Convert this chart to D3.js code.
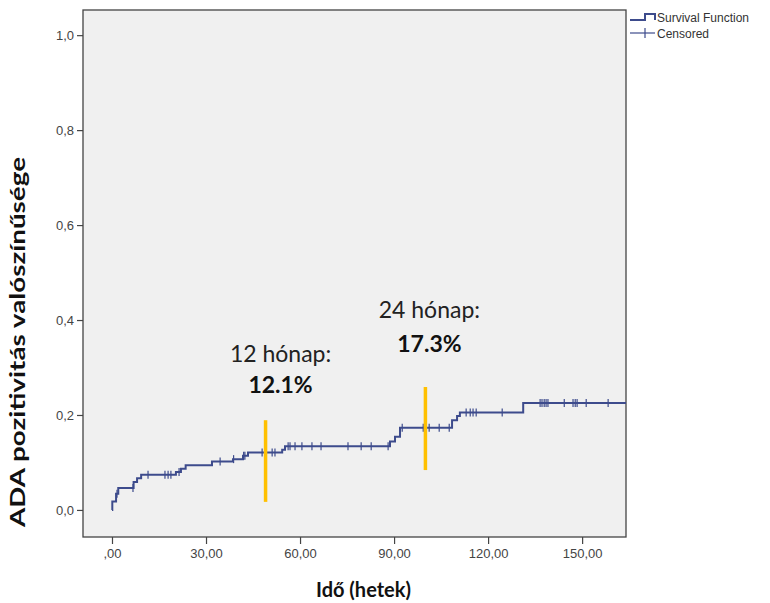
<!DOCTYPE html>
<html>
<head>
<meta charset="utf-8">
<script src="https://cdn.jsdelivr.net/npm/d3@7"></script>
<style>
  body { margin: 0; background: #fff; }
  svg { display: block; }
</style>
</head>
<body>
<script>
// Lépések (idő hetekben, kumulatív valószínűség)
const stepTimes  = [0, 0.1, 1.3, 2.0, 6.9, 8.0, 9.3, 20.4, 22.0, 23.5, 31.9, 38.6, 41.8, 43.4, 54.3, 55.2, 88.7, 90.3, 91.9, 108.5, 110.1, 111.0, 131.2];
const stepValues = [0, 0.018, 0.034, 0.046, 0.059, 0.067, 0.074, 0.080, 0.087, 0.094, 0.102, 0.107, 0.114, 0.121, 0.127, 0.134, 0.144, 0.154, 0.173, 0.189, 0.198, 0.205, 0.225];
const lastTime = 164;

// Cenzorált időpontok
const censorTimes = [1.6, 6.7, 11.5, 16.9, 17.9, 18.8, 21.4, 34.5, 38.8, 42.0, 42.4, 47.9, 51.1, 52.0,
  56.2, 56.8, 58.4, 60.6, 63.8, 66.7, 75.3, 79.5, 82.7, 88.1, 92.6, 99.3, 101.2, 104.4, 107.6,
  113.0, 114.3, 115.2, 116.2, 124.5, 136.6, 137.2, 137.9, 138.5, 139.1, 144.3, 147.1, 147.8, 148.4, 151.3, 158.3];

const xTicks = [0, 30, 60, 90, 120, 150];
const yTicks = [0, 0.2, 0.4, 0.6, 0.8, 1.0];

// Kiemelések
const markTimes = [49, 100];
const markLow   = [0.017, 0.084];
const markHigh  = [0.189, 0.259];
const markTitles = ["12 hónap:", "24 hónap:"];
const markPcts   = ["12.1%", "17.3%"];

const legendLabels = ["Survival Function", "Censored"];

const W = 770, H = 603;
const plot = { left: 83, top: 10, right: 626, bottom: 537 };
const lineColor = "#3d4b8c";

const svg = d3.select("body").append("svg")
  .attr("width", W).attr("height", H);

const x = d3.scaleLinear().domain([-9.25, 164]).range([plot.left, plot.right]);
const y = d3.scaleLinear().domain([-0.057, 1.053]).range([plot.bottom, plot.top]);

// háttér és keret
svg.append("rect")
  .attr("x", plot.left).attr("y", plot.top)
  .attr("width", plot.right - plot.left).attr("height", plot.bottom - plot.top)
  .attr("fill", "#f0f0f0")
  .attr("stroke", "#444").attr("stroke-width", 1.3);

const commaFmt = d3.formatLocale({ decimal: ",", thousands: ".", grouping: [3], currency: ["", ""] });

// tengelyek
const gx = svg.append("g")
  .attr("transform", "translate(0," + plot.bottom + ")")
  .call(d3.axisBottom(x).tickValues(xTicks).tickSize(7).tickPadding(5)
    .tickFormat(d => commaFmt.format(".2f")(d).replace(/^0,/, ",")));

const gy = svg.append("g")
  .attr("transform", "translate(" + plot.left + ",0)")
  .call(d3.axisLeft(y).tickValues(yTicks).tickSize(6).tickPadding(3)
    .tickFormat(commaFmt.format(".1f")));

[gx, gy].forEach(g => {
  g.select(".domain").remove();
  g.selectAll("line").attr("stroke", "#444").attr("stroke-width", 1.2);
  g.selectAll("text").attr("fill", "#444")
    .style("font-family", "'Liberation Sans', Arial, sans-serif")
    .style("font-size", "13px");
});

// görbe
const pts = stepTimes.map((t, i) => ({ t: t, v: stepValues[i] }));
pts.push({ t: lastTime, v: stepValues[stepValues.length - 1] });

svg.append("path")
  .datum(pts)
  .attr("fill", "none")
  .attr("stroke", lineColor)
  .attr("stroke-width", 2)
  .attr("d", d3.line().curve(d3.curveStepAfter).x(d => x(d.t)).y(d => y(d.v)));

function valueAt(t) {
  let v = stepValues[0];
  for (let i = 0; i < stepTimes.length; i++) if (stepTimes[i] <= t) v = stepValues[i];
  return v;
}

svg.append("g").selectAll("line")
  .data(censorTimes)
  .join("line")
  .attr("x1", d => x(d)).attr("x2", d => x(d))
  .attr("y1", d => y(valueAt(d)) - 4).attr("y2", d => y(valueAt(d)) + 4)
  .attr("stroke", lineColor).attr("stroke-width", 1.2);

// narancs jelölők
svg.append("g").selectAll("line")
  .data(markTimes)
  .join("line")
  .attr("x1", d => x(d)).attr("x2", d => x(d))
  .attr("y1", (d, i) => y(markLow[i])).attr("y2", (d, i) => y(markHigh[i]))
  .attr("stroke", "#ffc000").attr("stroke-width", 3.5);

const annFont = "Lato, 'Open Sans', sans-serif";
markTimes.forEach((t, i) => {
  const cx = x(t) + (i === 0 ? 15 : 4);
  const base = y(markHigh[i]) - (i === 0 ? 58 : 69);
  svg.append("text")
    .attr("x", cx).attr("y", base)
    .attr("text-anchor", "middle")
    .style("font-family", annFont).style("font-size", "23px")
    .attr("fill", "#222")
    .text(markTitles[i]);
  svg.append("text")
    .attr("x", cx).attr("y", base + (i === 0 ? 31 : 34))
    .attr("text-anchor", "middle")
    .style("font-family", annFont).style("font-size", "23px").style("font-weight", "bold")
    .attr("fill", "#111")
    .text(markPcts[i]);
});

// tengelycímek
svg.append("text")
  .attr("x", (plot.left + plot.right) / 2 + 9).attr("y", 597)
  .attr("text-anchor", "middle")
  .style("font-family", annFont).style("font-size", "20px").style("font-weight", "bold")
  .attr("fill", "#111")
  .text("Idő (hetek)");

svg.append("text")
  .attr("transform", "translate(25,342) rotate(-90)")
  .attr("text-anchor", "middle")
  .attr("textLength", 370)
  .attr("lengthAdjust", "spacingAndGlyphs")
  .style("font-family", annFont).style("font-size", "20px").style("font-weight", "bold")
  .attr("fill", "#111")
  .text("ADA pozitivitás valószínűsége");

// jelmagyarázat
const lg = svg.append("g").attr("transform", "translate(630,0)");
lg.append("path")
  .attr("d", "M0,20 H15 V14 H25 V20")
  .attr("fill", "none").attr("stroke", lineColor).attr("stroke-width", 2);
lg.append("line").attr("x1", 0).attr("x2", 25).attr("y1", 33).attr("y2", 33)
  .attr("stroke", lineColor).attr("stroke-width", 1.2);
lg.append("line").attr("x1", 15).attr("x2", 15).attr("y1", 28).attr("y2", 38)
  .attr("stroke", lineColor).attr("stroke-width", 1.2);
lg.selectAll("text.lab")
  .data(legendLabels)
  .join("text")
  .attr("class", "lab")
  .attr("x", 27).attr("y", (d, i) => 22 + i * 16)
  .style("font-family", "'Liberation Sans', Arial, sans-serif")
  .style("font-size", "12px")
  .attr("fill", "#333")
  .text(d => d);
</script>
</body>
</html>
